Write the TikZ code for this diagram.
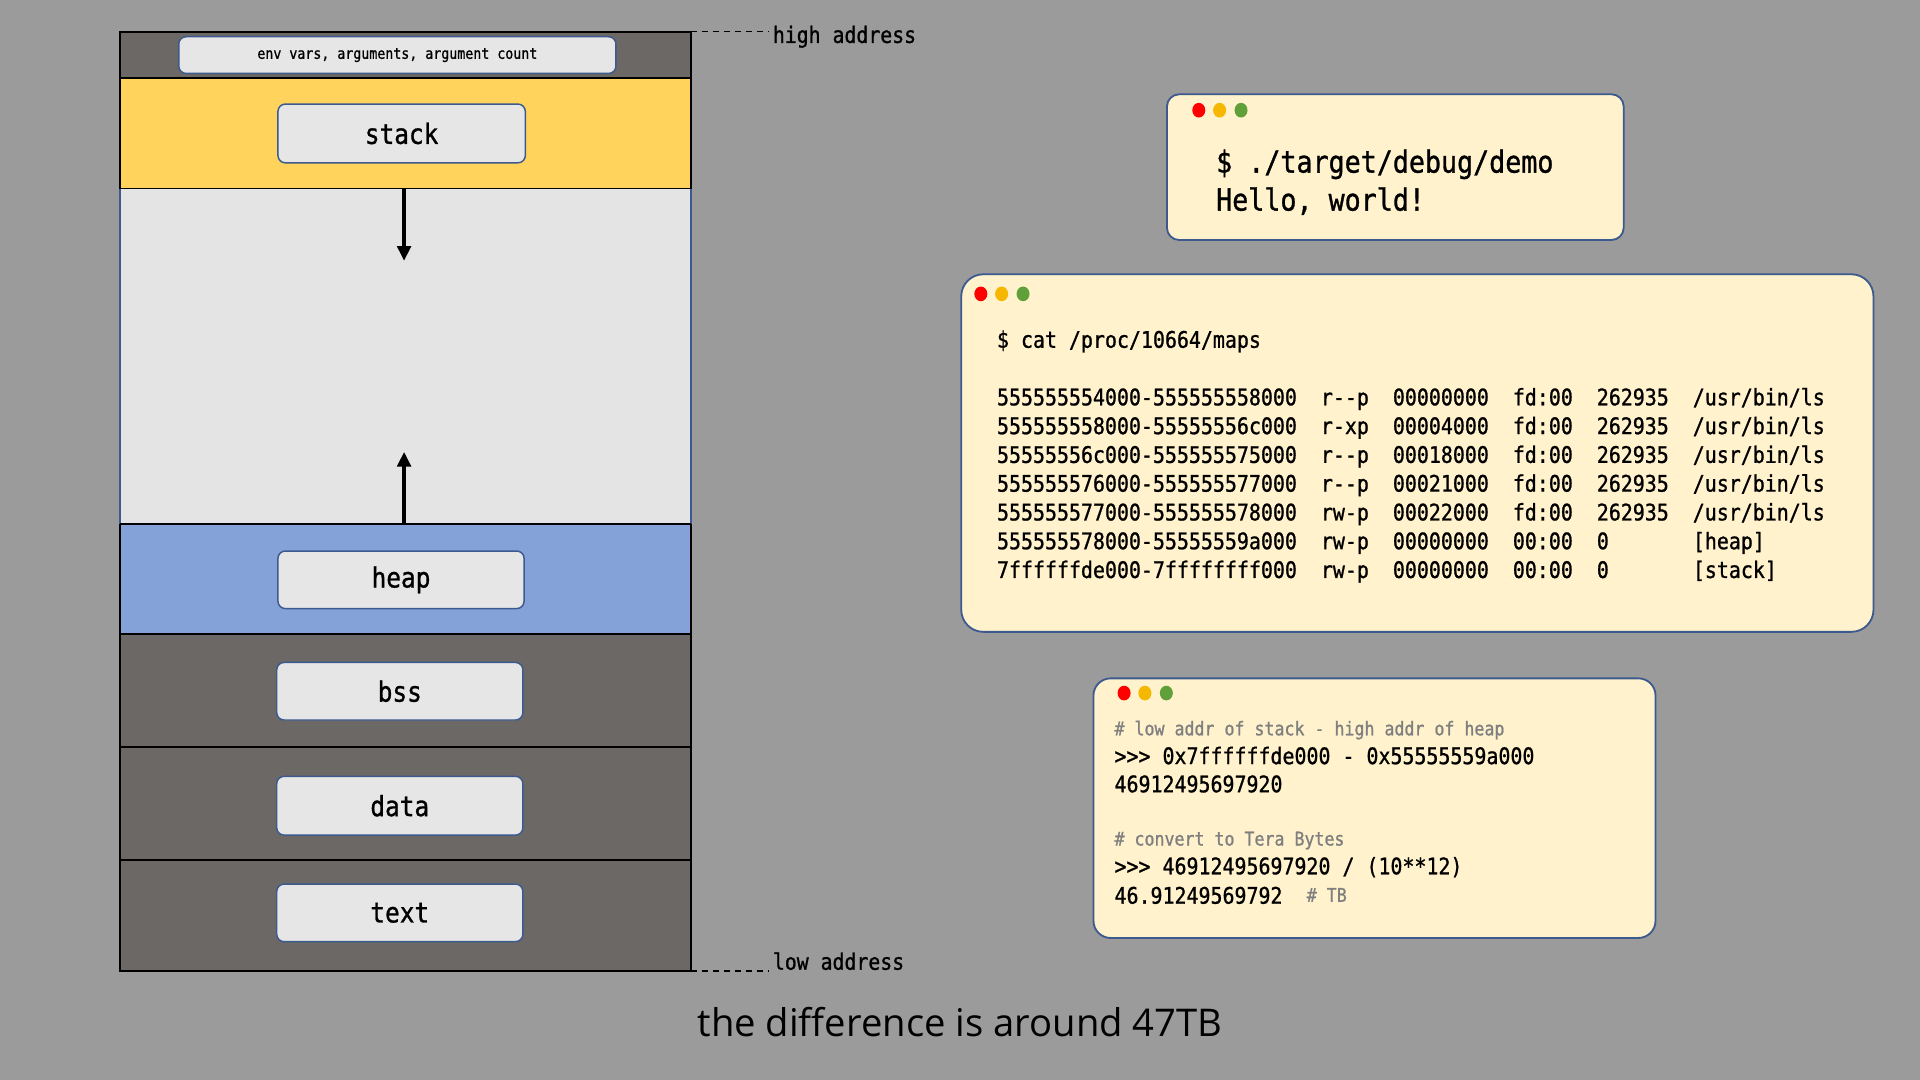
\documentclass[tikz,border=0pt]{standalone}
\usepackage{fontspec}
\setmainfont{Open Sans}
\newfontfamily\mono[FakeStretch=0.875,FakeBold=1,Ligatures=TeXOff]{DejaVu Sans Mono}
\usetikzlibrary{arrows.meta}
\definecolor{bgc}{HTML}{9B9B9B}
\definecolor{darkseg}{HTML}{6B6866}
\definecolor{stackc}{HTML}{FFD35C}
\definecolor{gapc}{HTML}{E4E4E4}
\definecolor{heapc}{HTML}{84A2D8}
\definecolor{boxc}{HTML}{E6E6E6}
\definecolor{edgec}{HTML}{3D5A8F}
\definecolor{termc}{HTML}{FFF2CC}
\definecolor{dotr}{HTML}{FF0000}
\definecolor{doty}{HTML}{F5B700}
\definecolor{dotg}{HTML}{5FA03A}
\definecolor{commentc}{HTML}{7F7F7F}
\tikzset{
  segline/.style={draw=black,line width=1.5pt},
  lbl/.style={draw=edgec,line width=1.2pt,fill=boxc,rounded corners=6pt,inner sep=0pt,
    font=\mono\fontsize{22.8}{26}\selectfont},
  term/.style={draw=edgec,line width=1.5pt,fill=termc,inner sep=0pt},
  txt/.style={inner sep=0pt,anchor=base west},
  code/.style={txt,font=\mono\fontsize{18.6}{22}\selectfont},
  cmt/.style={txt,text=commentc,font=\mono\fontsize{15.5}{18}\selectfont},
  growarrow/.style={line width=3pt,-{Triangle[length=12pt,width=11pt]}},
}
\newcommand\tdots[2]{%
  \fill[dotr] (#1,#2) ellipse [x radius=5.3, y radius=6];
  \fill[doty] (#1+17,#2) ellipse [x radius=5.3, y radius=6];
  \fill[dotg] (#1+34.5,#2) ellipse [x radius=5.3, y radius=6];
}
\begin{document}
\begin{tikzpicture}[x=1pt,y=-1pt]
\useasboundingbox (0,0) rectangle (1568,882);
\fill[bgc] (0,0) rectangle (1568,882);

% memory layout column
\fill[darkseg] (98,26) rectangle (564,64);
\fill[stackc] (98,64) rectangle (564,154);
\fill[gapc] (98,154) rectangle (564,428);
\fill[heapc] (98,428) rectangle (564,518);
\fill[darkseg] (98,518) rectangle (564,793);
\draw[edgec,line width=1.5pt] (98,154) -- (98,428) (564,154) -- (564,428);
\draw[segline] (98,154) -- (98,26) -- (564,26) -- (564,154);
\draw[segline] (98,428) -- (98,793) -- (564,793) -- (564,428);
\draw[segline] (98,64) -- (564,64) (98,154) -- (564,154) (98,428) -- (564,428)
  (98,518) -- (564,518) (98,610) -- (564,610) (98,702) -- (564,702);

\node[lbl,minimum width=357pt,minimum height=30pt,font=\mono\fontsize{12.4}{14}\selectfont]
  (env) at (324.5,45) {env vars, arguments, argument count};
\node[lbl,minimum width=202pt,minimum height=48pt] (stack) at (328,109) {stack};
\node[lbl,minimum width=201pt,minimum height=47pt] (heap) at (327.5,473.5) {heap};
\node[lbl,minimum width=201pt,minimum height=47pt] (bss) at (326.5,564.5) {bss};
\node[lbl,minimum width=201pt,minimum height=48pt] (data) at (326.5,658) {data};
\node[lbl,minimum width=201pt,minimum height=47pt] (text) at (326.5,745.5) {text};

\coordinate (stackedge) at (330,154);
\coordinate (stackgrow) at (330,213);
\coordinate (heapedge) at (330,428);
\coordinate (heapgrow) at (330,369);
\draw[growarrow] (stackedge) -- (stackgrow);
\draw[growarrow] (heapedge) -- (heapgrow);

\coordinate (hiA) at (564,26);
\coordinate (hiB) at (628,26);
\coordinate (loA) at (564,793);
\coordinate (loB) at (628,793);
\draw[dashed,line width=1pt,dash pattern=on 5pt off 4pt] (hiA) -- (hiB);
\draw[dashed,line width=1pt,dash pattern=on 5pt off 4pt] (loA) -- (loB);
\node[inner sep=0pt,anchor=west,font=\mono\fontsize{18.5}{22}\selectfont] (hilbl) at (631,30) {high address};
\node[inner sep=0pt,anchor=west,font=\mono\fontsize{18.5}{22}\selectfont] (lolbl) at (631,785) {low address};

% terminal 1
\node[term,rounded corners=10pt,minimum width=373pt,minimum height=119pt] (t1) at (1139.5,136.5) {};
\tdots{979}{90}
\node[txt,font=\mono\fontsize{24.9}{28}\selectfont] (t1a) at (993,141) {\$ ./target/debug/demo};
\node[txt,font=\mono\fontsize{24.9}{28}\selectfont] (t1b) at (993,172) {Hello, world!};

% terminal 2
\node[term,rounded corners=18pt,minimum width=745pt,minimum height=292pt] (t2) at (1157.5,370) {};
\tdots{801}{240}
\node[code] (t2cmd) at (814,284) {\$ cat /proc/10664/maps};
\node[code] (m1) at (814,331) {555555554000-555555558000~~r--p~~00000000~~fd:00~~262935~~/usr/bin/ls};
\node[code] (m2) at (814,354.5) {555555558000-55555556c000~~r-xp~~00004000~~fd:00~~262935~~/usr/bin/ls};
\node[code] (m3) at (814,378) {55555556c000-555555575000~~r--p~~00018000~~fd:00~~262935~~/usr/bin/ls};
\node[code] (m4) at (814,401.5) {555555576000-555555577000~~r--p~~00021000~~fd:00~~262935~~/usr/bin/ls};
\node[code] (m5) at (814,425) {555555577000-555555578000~~rw-p~~00022000~~fd:00~~262935~~/usr/bin/ls};
\node[code] (m6) at (814,448.5) {555555578000-55555559a000~~rw-p~~00000000~~00:00~~0~~~~~~~[heap]};
\node[code] (m7) at (814,472) {7ffffffde000-7ffffffff000~~rw-p~~00000000~~00:00~~0~~~~~~~[stack]};

% terminal 3
\node[term,rounded corners=14pt,minimum width=459pt,minimum height=212pt] (t3) at (1122.5,660) {};
\tdots{918}{566}
\node[cmt] (c1) at (910,600.5) {\# low addr of stack - high addr of heap};
\node[code] (c2) at (910,624) {>{}>{}> 0x7ffffffde000 - 0x55555559a000};
\node[code] (c3) at (910,647) {46912495697920};
\node[cmt] (c4) at (910,690.5) {\# convert to Tera Bytes};
\node[code] (c5) at (910,714) {>{}>{}> 46912495697920 / (10**12)};
\node[code] (c6) at (910,738) {46.91249569792};
\node[cmt] (c7) at (1067,736.5) {\# TB};

% caption
\node[inner sep=0pt,font=\fontsize{31.2}{36}\selectfont] (cap) at (784,835) {the difference is around 47TB};
\end{tikzpicture}
\end{document}
